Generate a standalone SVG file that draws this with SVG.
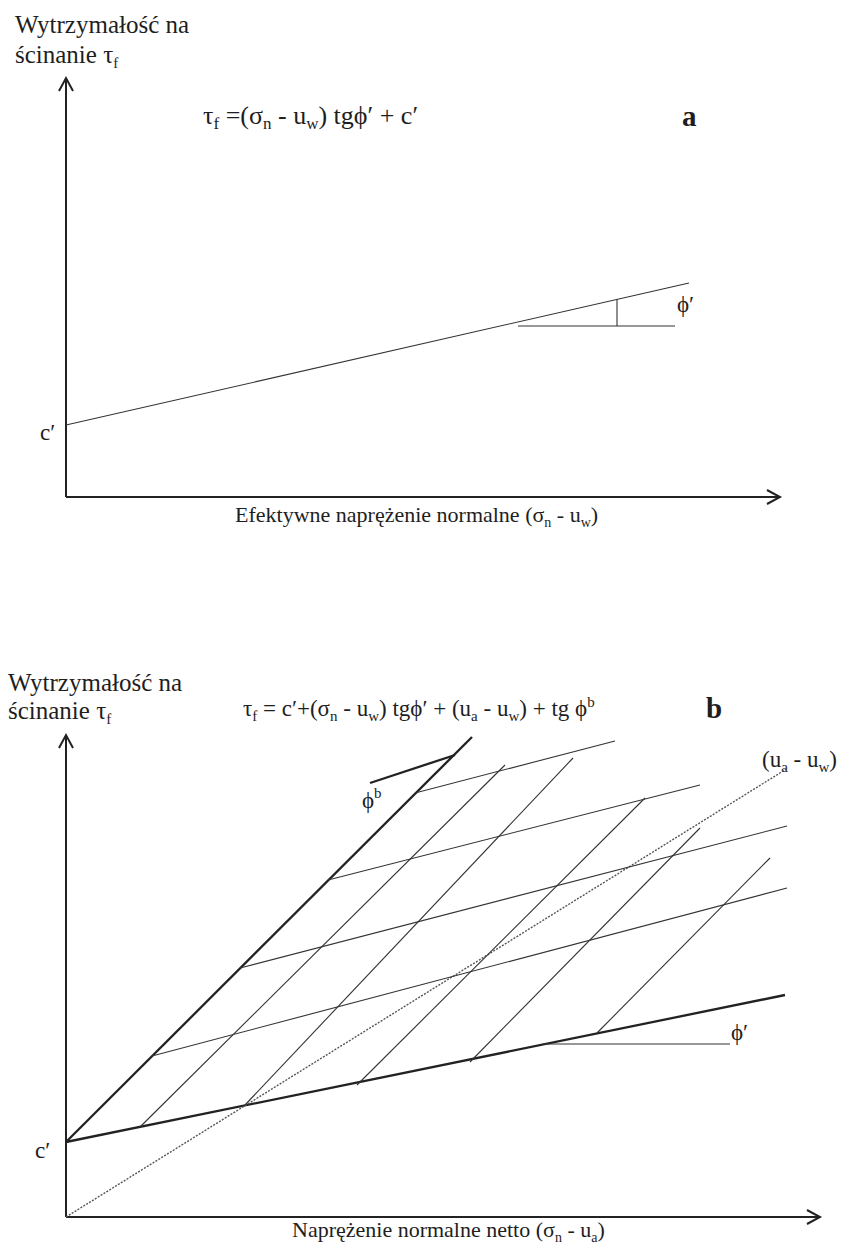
<svg xmlns="http://www.w3.org/2000/svg" width="842" height="1243" viewBox="0 0 842 1243">
<style>
text{font-family:"Liberation Serif","DejaVu Serif",serif;fill:#1e1e1e;font-size:23px;}
.ttl{font-size:25px;}
.fa{font-size:26px;}
.xl{font-size:22px;}
.sub{font-size:15px;}
.subs{font-size:14px;}
.subl{font-size:17px;}
.bold{font-weight:bold;font-size:29px;}
.axis{stroke:#222;stroke-width:2;fill:none;}
.thin{stroke:#333;stroke-width:1.1;fill:none;}
.thick{stroke:#222;stroke-width:2.3;fill:none;}
.dot{stroke:#555;stroke-width:1.4;stroke-dasharray:2 1.4;fill:none;}
</style>
<rect width="842" height="1243" fill="#fff"/>

<g id="panel-a">
  <g id="a-ylabel">
    <text class="ttl" x="15" y="33">Wytrzymałość na</text>
    <text class="ttl" x="15" y="63">ścinanie τ<tspan class="sub" dy="5">f</tspan></text>
  </g>
  <g id="a-formula">
    <text class="fa" x="203" y="124">τ<tspan class="subl" dy="5">f</tspan><tspan dy="-5"> =(σ</tspan><tspan class="subl" dy="5">n</tspan><tspan dy="-5"> - u</tspan><tspan class="subl" dy="5">w</tspan><tspan dy="-5">) tgϕ′ + c′</tspan></text>
  </g>
  <g id="a-tag"><text class="bold" x="682" y="126">a</text></g>
  <g id="a-cprime"><text x="40" y="440">c′</text></g>
  <g id="a-phi"><text x="677" y="312">ϕ′</text></g>
  <g id="a-xlabel">
    <text class="xl" x="235" y="522">Efektywne naprężenie normalne (σ<tspan class="subs" dy="5">n</tspan><tspan dy="-5"> - u</tspan><tspan class="subs" dy="5">w</tspan><tspan dy="-5">)</tspan></text>
  </g>
</g>

<g id="panel-b">
  <g id="b-ylabel">
    <text class="ttl" x="8" y="691">Wytrzymałość na</text>
    <text class="ttl" x="8" y="719">ścinanie τ<tspan class="sub" dy="5">f</tspan></text>
  </g>
  <g id="b-formula">
    <text x="243" y="716">τ<tspan class="sub" dy="5">f</tspan><tspan dy="-5"> = c′+(σ</tspan><tspan class="sub" dy="5">n</tspan><tspan dy="-5"> - u</tspan><tspan class="sub" dy="5">w</tspan><tspan dy="-5">) tgϕ′ + (u</tspan><tspan class="sub" dy="5">a</tspan><tspan dy="-5"> - u</tspan><tspan class="sub" dy="5">w</tspan><tspan dy="-5">) + tg ϕ</tspan><tspan class="sub" dy="-9">b</tspan></text>
  </g>
  <g id="b-tag"><text class="bold" x="706" y="718">b</text></g>
  <g id="b-cprime"><text x="35" y="1158">c′</text></g>
  <g id="b-phib"><text x="362" y="808">ϕ<tspan class="sub" dy="-10">b</tspan></text></g>
  <g id="b-phi"><text x="731" y="1040">ϕ′</text></g>
  <g id="b-uauw">
    <text x="762" y="767">(u<tspan class="sub" dy="5">a</tspan><tspan dy="-5"> - u</tspan><tspan class="sub" dy="5">w</tspan><tspan dy="-5">)</tspan></text>
  </g>
  <g id="b-xlabel">
    <text class="xl" x="292" y="1237">Naprężenie normalne netto (σ<tspan class="subs" dy="5">n</tspan><tspan dy="-5"> - u</tspan><tspan class="subs" dy="5">a</tspan><tspan dy="-5">)</tspan></text>
  </g>
</g>

<g id="connectors">
  <path class="axis" d="M66,497 V78 M59,91 L66,78 L73,91"/>
  <path class="axis" d="M66,497 H780 M767,490 L780,497 L767,504"/>
  <path class="thin" d="M66,425 L689,283"/>
  <path class="thin" d="M518,326 H675 M617,299 V326"/>
  <path class="axis" d="M66,1217 V735 M59,748 L66,735 L73,748"/>
  <path class="axis" d="M66,1217 H820 M807,1210 L820,1217 L807,1224"/>
  <path class="thick" d="M66,1142 L785,995"/>
  <path class="thick" d="M66,1142 L472,737"/>
  <path class="thick" d="M370,783 L455,755"/>
  <path class="thin" d="M543,1044 H730"/>
  <path class="dot" d="M66,1217 L788,768"/>
  <path class="thin" d="M415,793 L615,741"/>
  <path class="thin" d="M328,880 L700,785"/>
  <path class="thin" d="M240,968 L787,826"/>
  <path class="thin" d="M152,1056 L787,888"/>
  <path class="thin" d="M140,1127 L505,765"/>
  <path class="thin" d="M245,1105 L573,758"/>
  <path class="thin" d="M357,1085 L645,798"/>
  <path class="thin" d="M470,1062 L700,828"/>
  <path class="thin" d="M597,1033 L770,858"/>
</g>
</svg>
